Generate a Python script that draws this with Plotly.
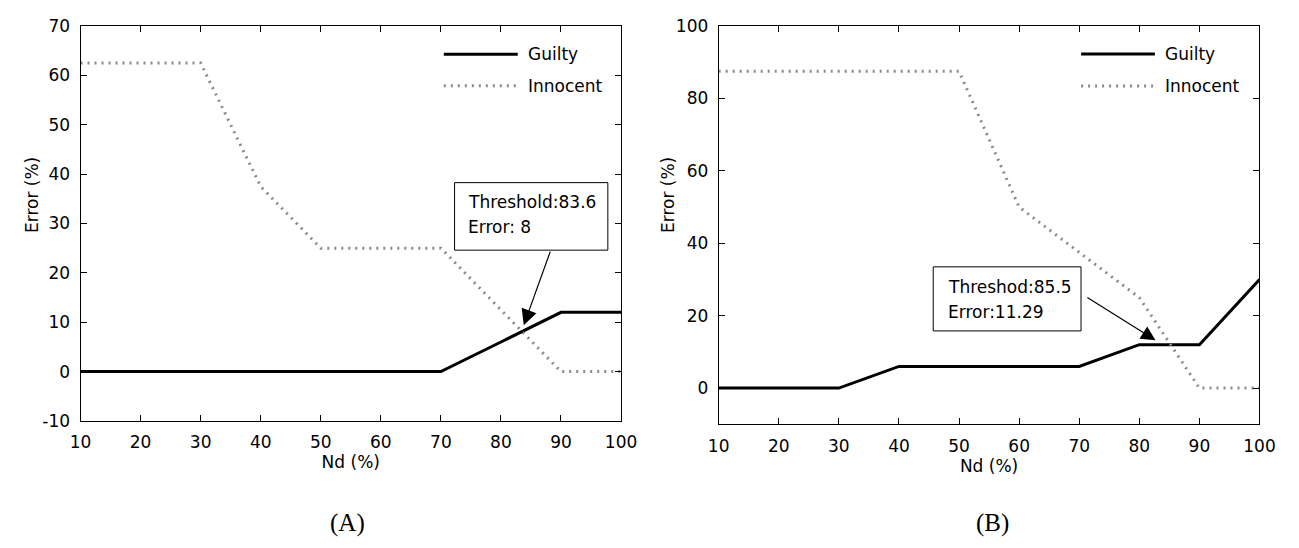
import plotly.graph_objects as go

W, H = 1299, 548

# ---------------- data ----------------
nd = [10, 20, 30, 40, 50, 60, 70, 80, 90, 100]
guilty_a = [0, 0, 0, 0, 0, 0, 0, 6, 12, 12]
innocent_a = [62.5, 62.5, 62.5, 37.5, 25, 25, 25, 12.5, 0, 0]
guilty_b = [0, 0, 0, 6, 6, 6, 6, 12, 12, 30]
innocent_b = [87.5, 87.5, 87.5, 87.5, 87.5, 50, 37.5, 25, 0, 0]

series_names = ["Guilty", "Innocent"]
box_a = ["Threshold:83.6", "Error: 8"]
box_b = ["Threshod:85.5", "Error:11.29"]
captions = ["(A)", "(B)"]

yticks_a = [-10, 0, 10, 20, 30, 40, 50, 60, 70]
yticklabels_a = ["-10", "0", "10", "20", "30", "40", "50", "60", "70"]
yticks_b = [0, 20, 40, 60, 80, 100]
yticklabels_b = ["0", "20", "40", "60", "80", "100"]

FONT = "DejaVu Sans"
FS = 17
GRAY = "#8a8a8a"


def px(x):
    return x / W


def py(y):
    return 1 - y / H


fig = go.Figure()

fig.add_trace(go.Scatter(x=nd, y=guilty_a, mode="lines", name=series_names[0],
                         line=dict(color="black", width=3), xaxis="x", yaxis="y",
                         showlegend=False))
fig.add_trace(go.Scatter(x=nd, y=innocent_a, mode="lines", name=series_names[1],
                         line=dict(color=GRAY, width=3, dash="2px,5px"), xaxis="x", yaxis="y",
                         showlegend=False))
fig.add_trace(go.Scatter(x=nd, y=guilty_b, mode="lines", name=series_names[0],
                         line=dict(color="black", width=3), xaxis="x2", yaxis="y2",
                         showlegend=False))
fig.add_trace(go.Scatter(x=nd, y=innocent_b, mode="lines", name=series_names[1],
                         line=dict(color=GRAY, width=3, dash="2px,5px"), xaxis="x2", yaxis="y2",
                         showlegend=False))

axis_common = dict(showgrid=False, zeroline=False, showline=True, linecolor="black",
                   linewidth=1, mirror="ticks", ticks="inside", ticklen=6, tickcolor="black",
                   tickfont=dict(family=FONT, size=FS, color="black"))

xa = dict(axis_common, range=[10, 100], dtick=10, tick0=10,
          title=dict(text="Nd (%)", font=dict(family=FONT, size=FS, color="black"), standoff=4),
          ticklabelstandoff=6)

fig.update_layout(
    width=W, height=H,
    margin=dict(l=0, r=0, t=0, b=0),
    paper_bgcolor="white", plot_bgcolor="white",
    showlegend=False,
    xaxis=dict(xa, domain=[px(71), px(623)], anchor="y"),
    yaxis=dict(axis_common, range=[-10, 70], tickmode="array", tickvals=yticks_a,
               ticktext=yticklabels_a,
               domain=[py(426.5), py(16.7)], anchor="x", ticklabelstandoff=6),
    xaxis2=dict(xa, domain=[px(722.7), px(1275)], anchor="y2"),
    yaxis2=dict(axis_common, range=[-10, 100], tickmode="array", tickvals=yticks_b,
                ticktext=yticklabels_b,
                domain=[py(430), py(16.7)], anchor="x2", ticklabelstandoff=6),
)

annotations = []
shapes = []

# y-axis titles
for xp in (22, 671.5):
    annotations.append(dict(text="Error (%)", xref="paper", yref="paper", x=px(xp), y=py(192.5),
                            textangle=-90, showarrow=False, xanchor="center", yanchor="middle",
                            font=dict(family=FONT, size=FS, color="black")))

# captions
for cap, xp in zip(captions, (344, 1002)):
    annotations.append(dict(text=cap, xref="paper", yref="paper", x=px(xp), y=py(532),
                            showarrow=False, xanchor="center", yanchor="middle",
                            font=dict(family="Liberation Serif", size=25, color="black")))

# manual legends (sample lines + labels)
for (x0, x1, xt, yg, yi) in [(442, 517.5, 525.5, 45.9, 78.6), (1092.8, 1168.2, 1176, 45.6, 79)]:
    shapes.append(dict(type="line", xref="paper", yref="paper", x0=px(x0), x1=px(x1),
                       y0=py(yg), y1=py(yg), line=dict(color="black", width=3)))
    shapes.append(dict(type="line", xref="paper", yref="paper", x0=px(x0), x1=px(x1),
                       y0=py(yi), y1=py(yi), line=dict(color=GRAY, width=3, dash="2px,5px")))
    for name, yy in zip(series_names, (yg, yi)):
        annotations.append(dict(text=name, xref="paper", yref="paper", x=px(xt), y=py(yy),
                                showarrow=False, xanchor="left", yanchor="middle",
                                font=dict(family=FONT, size=FS, color="black")))

# data-tip boxes: rectangle + two text lines
for (xr, yr, bx0, bx1, by0, by1, tx, ty, lines) in [
        ("x", "y", 72.28, 97.8, 24.6, 38.28, 74.24, (34.31, 29.21), box_a),
        ("x2", "y2", 45.7, 70.3, 15.8, 33.5, 47.8, (27.9, 21.0), box_b)]:
    shapes.append(dict(type="rect", xref=xr, yref=yr, x0=bx0, x1=bx1, y0=by0, y1=by1,
                       line=dict(color="black", width=1), fillcolor="white", layer="above"))
    for txt, yy in zip(lines, ty):
        annotations.append(dict(text=txt, xref=xr, yref=yr, x=tx, y=yy, showarrow=False,
                                xanchor="left", yanchor="middle",
                                font=dict(family=FONT, size=FS, color="black")))

# arrows
annotations.append(dict(text="", xref="x", yref="y", x=83.8, y=9.4, axref="x", ayref="y",
                        ax=88.3, ay=24.6, showarrow=True, arrowhead=2, arrowsize=2.6,
                        arrowwidth=1.2, arrowcolor="black", standoff=0))
annotations.append(dict(text="", xref="x2", yref="y2", x=82.7, y=13.2, axref="x2", ayref="y2",
                        ax=71.1, ay=25.3, showarrow=True, arrowhead=2, arrowsize=2.4,
                        arrowwidth=1.2, arrowcolor="black", standoff=0))

fig.update_layout(annotations=annotations, shapes=shapes)

fig.write_html("out.html",
               post_script="document.body.style.margin='0';document.body.style.overflow='hidden';")
